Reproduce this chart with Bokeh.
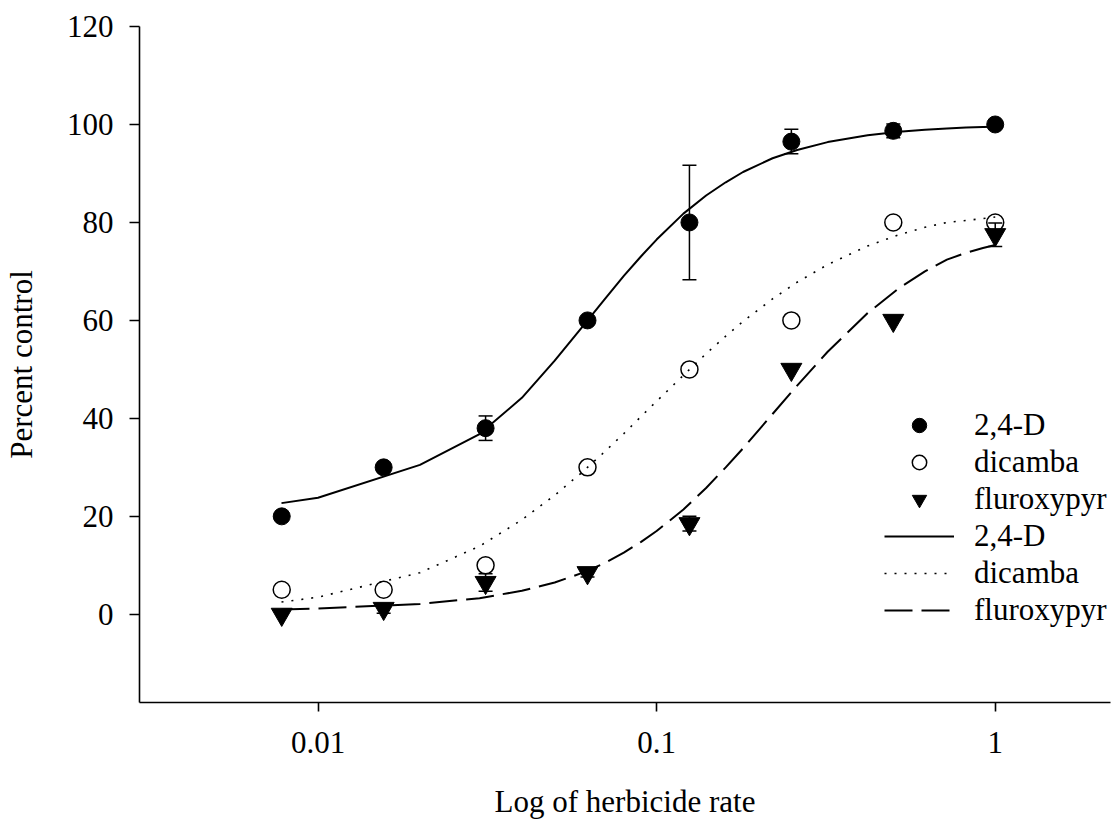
from bokeh.plotting import figure
from bokeh.models import (Range1d, FixedTicker, Whisker, TeeHead, ColumnDataSource,
                          Legend, LegendItem, CustomJSTickFormatter)
from bokeh.embed import file_html
from bokeh.resources import INLINE

# ---- data ----
rates = [0.0078125, 0.015625, 0.03125, 0.0625, 0.125, 0.25, 0.5, 1.0]
d24_mean = [20, 30, 38, 60, 80, 96.5, 98.7, 100]
d24_err = [0, 0, 2.5, 0, 11.7, 2.5, 1.4, 0]
dic_mean = [5, 5, 10, 30, 50, 60, 80, 80]
dic_err = [0, 0, 0, 0, 0, 0, 0, 0]
flu_mean = [0, 1.2, 6.5, 8.5, 18.5, 50, 60, 77.5]
flu_err = [0, 1.0, 1.8, 0.9, 1.5, 0, 0, 2.4]

curve_x = [0.0078, 0.01, 0.02, 0.03, 0.04, 0.05, 0.06, 0.07, 0.08, 0.09, 0.10,
           0.12, 0.14, 0.16, 0.18, 0.22, 0.26, 0.32, 0.42, 0.52, 0.62, 0.72,
           0.82, 0.92, 1.0]
d24_curve = [22.7, 23.8, 30.5, 36.8, 44.2, 51.8, 58.5, 64.2, 69.1, 73.1, 76.5,
             81.8, 85.5, 88.2, 90.3, 93.1, 94.8, 96.4, 97.8, 98.5, 98.9, 99.2,
             99.4, 99.5, 99.55]
dic_curve = [2.5, 3.5, 8.5, 13.9, 19.3, 24.3, 28.9, 33.1, 36.9, 40.4, 43.5,
             48.8, 53.2, 56.8, 59.8, 64.4, 67.8, 71.4, 75.2, 77.5, 79.0, 80.0,
             80.4, 80.8, 81.1]
flu_curve = [1.0, 1.2, 2.1, 3.3, 4.8, 6.5, 8.4, 10.4, 12.6, 14.8, 17.0,
             21.4, 25.8, 30.0, 33.9, 40.9, 46.7, 53.6, 61.5, 66.6, 70.0, 72.4,
             73.8, 74.8, 75.4]

x_ticks = [0.01, 0.1, 1]
y_ticks = [0, 20, 40, 60, 80, 100, 120]
series_names = ["2,4-D", "dicamba", "fluroxypyr"]

FONT = "Liberation Serif"
FSIZE = "31px"

p = figure(width=1115, height=822, x_axis_type="log",
           x_range=Range1d(0.00297, 2.19), y_range=Range1d(-18, 120),
           output_backend="svg", toolbar_location=None,
           min_border_left=138, min_border_right=5, min_border_top=26,
           min_border_bottom=120)
p.background_fill_color = "white"
p.border_fill_color = "white"
p.outline_line_color = None
p.xgrid.visible = False
p.ygrid.visible = False

p.xaxis.ticker = FixedTicker(ticks=x_ticks)
p.xaxis.formatter = CustomJSTickFormatter(code="return String(tick);")
p.yaxis.ticker = FixedTicker(ticks=y_ticks)
for ax in (p.xaxis, p.yaxis):
    ax.axis_line_width = 1.6
    ax.axis_line_color = "black"
    ax.major_tick_line_width = 1.6
    ax.major_tick_line_color = "black"
    ax.major_tick_in = 0
    ax.minor_tick_line_color = None
    ax.major_label_text_font = FONT
    ax.major_label_text_font_size = FSIZE
    ax.major_label_text_color = "black"
    ax.axis_label_text_font = FONT
    ax.axis_label_text_font_size = FSIZE
    ax.axis_label_text_font_style = "normal"
    ax.axis_label_text_color = "black"
p.xaxis.major_tick_out = 9
p.yaxis.major_tick_out = 10
p.xaxis.major_label_standoff = 20
p.yaxis.major_label_standoff = 16
p.xaxis.axis_label = "Log of herbicide rate"
p.yaxis.axis_label = "Percent control"
p.xaxis.axis_label_standoff = 28
p.yaxis.axis_label_standoff = 25

# fitted curves
l1 = p.line(curve_x, d24_curve, line_color="black", line_width=2)
l2 = p.line(curve_x, dic_curve, line_color="black", line_width=1.6, line_dash="2 8")
l3 = p.line(curve_x, flu_curve, line_color="black", line_width=2, line_dash="28 9")

# error bars
def add_whiskers(means, errs):
    xs = [r for r, e in zip(rates, errs) if e > 0]
    ups = [m + e for m, e in zip(means, errs) if e > 0]
    los = [m - e for m, e in zip(means, errs) if e > 0]
    if not xs:
        return
    src = ColumnDataSource(dict(x=xs, upper=ups, lower=los))
    w = Whisker(source=src, base="x", upper="upper", lower="lower",
                dimension="height", line_width=1.5, line_color="black",
                upper_head=TeeHead(size=14, line_width=1.5, line_color="black"),
                lower_head=TeeHead(size=14, line_width=1.5, line_color="black"))
    w.level = "glyph"
    p.add_layout(w)

add_whiskers(d24_mean, d24_err)
add_whiskers(dic_mean, dic_err)
add_whiskers(flu_mean, flu_err)

s1 = p.scatter(rates, d24_mean, marker="circle", size=17,
               fill_color="black", line_color="black")
s2 = p.scatter(rates, dic_mean, marker="circle", size=17,
               fill_color=None, line_color="black", line_width=1.5)
s3 = p.scatter(rates, flu_mean, marker="inverted_triangle", size=21,
               fill_color="black", line_color="black")

legend = Legend(items=[
    LegendItem(label=series_names[0], renderers=[s1]),
    LegendItem(label=series_names[1], renderers=[s2]),
    LegendItem(label=series_names[2], renderers=[s3]),
    LegendItem(label=series_names[0], renderers=[l1]),
    LegendItem(label=series_names[1], renderers=[l2]),
    LegendItem(label=series_names[2], renderers=[l3]),
], location=(745, 74), glyph_width=70, glyph_height=36, spacing=1,
    padding=0, margin=0, border_line_color=None, background_fill_alpha=0,
    label_text_font=FONT, label_text_font_size=FSIZE, label_standoff=20,
    label_text_color="black")
p.add_layout(legend)

open("out.html", "w").write(file_html(p, INLINE))
